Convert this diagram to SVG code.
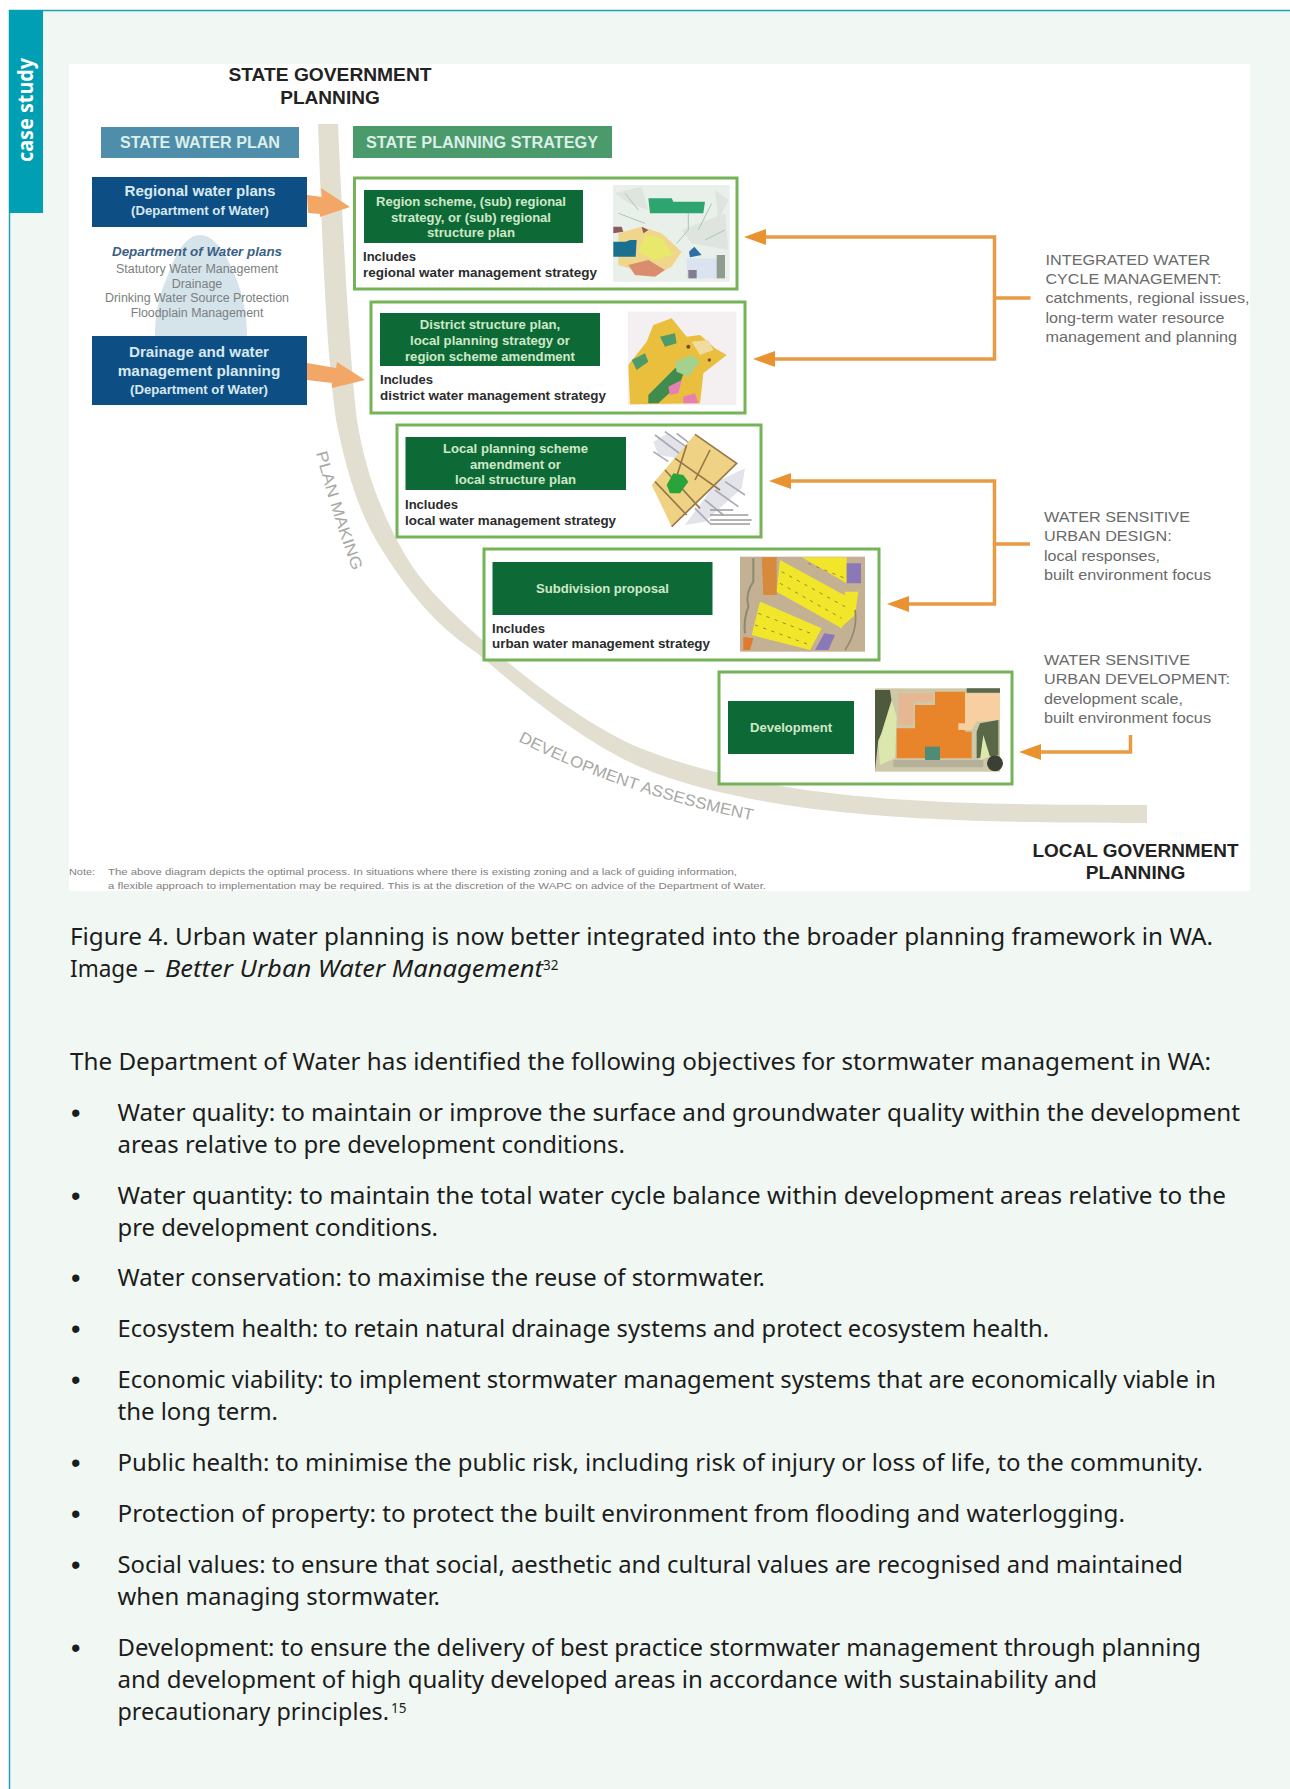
<svg xmlns="http://www.w3.org/2000/svg" width="1290" height="1789" viewBox="0 0 1290 1789">
<style>
text{font-family:"Liberation Sans",Arial,sans-serif}
.b{font-family:"Noto Sans","Open Sans",sans-serif;font-size:23.500px;fill:#1c1c1c}
.bu{font-size:27px;fill:#1c1c1c}
.t{font-weight:700;font-size:18px;fill:#222;text-anchor:middle}
.h{font-weight:700;font-size:16px;fill:#dcefe8;text-anchor:middle}
.w{font-weight:700;fill:#d8e8f0;text-anchor:middle}
.g{font-size:12.5px;fill:#7a7f80;text-anchor:middle}
.n{font-weight:700;font-size:12.5px;fill:#cfe8c8;text-anchor:middle}
.i{font-weight:700;font-size:12.5px;fill:#2c2c2c}
.r{font-size:14.5px;fill:#6a6a6a}
.f{font-size:9.8px;fill:#808080}
.c{font-size:16px;fill:#a8a8a4}
.box{fill:#fff;stroke:#74b357;stroke-width:3}
.dark{fill:#0d6a36}
.blue{fill:#0d4f84}
.fat{fill:#f3a766}
.con{fill:none;stroke:#e89a45;stroke-width:3.5}
.th{filter:url(#soft)}
.lot{fill:none;stroke:#9a8a2a;stroke-width:3;stroke-dasharray:10 16}
</style>
<defs>
<marker id="ah" markerUnits="userSpaceOnUse" markerWidth="22" markerHeight="16" viewBox="0 0 22 16" refX="5" refY="8" orient="auto"><path d="M0,0 L22,8 L0,16 Z" fill="#e8932f"/></marker>
<filter id="soft" x="-5%" y="-5%" width="110%" height="110%"><feGaussianBlur stdDeviation="0.9"/></filter>
<path id="pm" d="M316,453 C326,490 338,532 354,574"/>
<path id="da" d="M518,741 C590,778 670,804 756,821"/>
</defs>

<rect width="1290" height="1789" fill="#fff"/>
<rect x="9" y="10" width="1281" height="1779" fill="#f1f8f3"/>
<path d="M9.500,1789 V10.500 H1290" fill="none" stroke="#1fa3b3" stroke-width="1.500"/>
<g id="tab">
<rect x="9" y="10" width="34" height="203" fill="#009fb3"/>
<text transform="translate(33 162) rotate(-90)" textLength="104" lengthAdjust="spacingAndGlyphs" style="font-family:'Noto Sans','Open Sans',sans-serif;font-size:21px;font-weight:700;fill:#fff">case study</text>
</g>

<rect x="69" y="64" width="1181" height="827" fill="#fff"/>

<g id="band"><path d="M318,124 C322,230 325,340 336,420 C348,480 362,520 384,553 C420,610 450,635 477,653 C520,690 580,740 640,767 C690,788 750,800 806,808 C900,820 1000,823 1147,823 V805 C1000,805 900,803 806,790 C750,782 690,768 640,748 C600,732 540,690 497,653 C460,620 425,590 404,553 C380,510 365,470 357,420 C350,360 343,240 338,124 Z" fill="#e3dfd0"/></g>

<g id="state-government"><text class="t" x="330" y="81" textLength="203" lengthAdjust="spacingAndGlyphs">STATE GOVERNMENT</text><text class="t" x="330" y="104" textLength="99.500" lengthAdjust="spacingAndGlyphs">PLANNING</text></g>

<g id="state-water-plan"><rect x="101" y="127" width="198" height="31" fill="#4f8eaa"/><text class="h" x="200" y="148" textLength="160" lengthAdjust="spacingAndGlyphs">STATE WATER PLAN</text></g>
<g id="state-planning-strategy"><rect x="353" y="126" width="259" height="32" fill="#4b9a6c"/><text class="h" x="482" y="148" textLength="232" lengthAdjust="spacingAndGlyphs">STATE PLANNING STRATEGY</text></g>

<g id="regional-water-plans"><rect class="blue" x="92" y="177" width="215" height="50"/>
<text class="w" x="200" y="196" font-size="14.500" textLength="151" lengthAdjust="spacingAndGlyphs">Regional water plans</text>
<text class="w" x="200" y="215" font-size="12.500" textLength="138" lengthAdjust="spacingAndGlyphs">(Department of Water)</text></g>

<g id="department-of-water-plans">
<path d="M200,235 C184,235 174,258 166,280 C158,298 155,318 155,336 H247 C247,316 243,295 236,278 C228,258 216,235 200,235 Z" fill="#d5e3ea"/>
<text x="197" y="256" text-anchor="middle" font-size="13" font-weight="700" font-style="italic" fill="#3b5f85" textLength="170" lengthAdjust="spacingAndGlyphs">Department of Water plans</text>
<text class="g" x="197" y="273" textLength="162" lengthAdjust="spacingAndGlyphs">Statutory Water Management</text>
<text class="g" x="197" y="288" textLength="50.600" lengthAdjust="spacingAndGlyphs">Drainage</text>
<text class="g" x="197" y="302" textLength="184" lengthAdjust="spacingAndGlyphs">Drinking Water Source Protection</text>
<text class="g" x="197" y="317" textLength="132.700" lengthAdjust="spacingAndGlyphs">Floodplain Management</text></g>

<g id="drainage-water-planning"><rect class="blue" x="92" y="336" width="215" height="69"/>
<text class="w" x="199" y="357" font-size="14.500" textLength="140" lengthAdjust="spacingAndGlyphs">Drainage and water</text>
<text class="w" x="199" y="376" font-size="14.500" textLength="162.500" lengthAdjust="spacingAndGlyphs">management planning</text>
<text class="w" x="199" y="394" font-size="12.500" textLength="138" lengthAdjust="spacingAndGlyphs">(Department of Water)</text></g>

<g id="region-scheme"><rect class="box" x="354.500" y="178" width="382.500" height="111"/>
<rect class="dark" x="364" y="190" width="219" height="53"/>
<text class="n" x="471" y="206" textLength="190" lengthAdjust="spacingAndGlyphs">Region scheme, (sub) regional</text>
<text class="n" x="471" y="222" textLength="160" lengthAdjust="spacingAndGlyphs">strategy, or (sub) regional</text>
<text class="n" x="471" y="237" textLength="88" lengthAdjust="spacingAndGlyphs">structure plan</text>
<text class="i" x="363" y="261" textLength="53" lengthAdjust="spacingAndGlyphs">Includes</text>
<text class="i" x="363" y="277" textLength="234" lengthAdjust="spacingAndGlyphs">regional water management strategy</text>
<g class="th" transform="translate(605 180) scale(.33333)">
<rect x="24" y="15" width="350" height="290" fill="#e9f0ea"/>
<path d="M30,40 L110,20 L130,90 L70,70 Z M330,30 L370,60 L340,120 Z M230,150 L360,100 L370,210 L260,190 Z" fill="#dfe4df"/>
<path d="M130,55 H200 L205,65 H300 L295,100 H135 Z" fill="#2ea570"/>
<path d="M250,100 V150 L215,190 M320,70 L280,150 M40,100 L120,130 M60,40 L100,90 M300,180 L360,150" fill="none" stroke="#a9c7b2" stroke-width="3"/>
<path d="M40,160 L110,140 L170,160 L230,215 L200,260 L150,285 L90,270 L40,255 Z" fill="#efd68a"/>
<path d="M120,165 L170,175 L205,225 L145,240 L100,215 Z" fill="#e8e86a"/>
<path d="M25,185 H62 L75,180 H95 L92,230 H25 Z" fill="#1f6f8f"/>
<path d="M70,255 L130,240 L180,270 L150,290 L90,285 Z" fill="#d98c6e"/>
<path d="M25,140 L50,140 L55,155 L25,160 Z M110,140 L130,150 L115,160 Z" fill="#8b5a5a"/>
<path d="M252,215 L268,200 L290,225 L255,232 Z" fill="#2f6ea5"/>
<rect x="245" y="235" width="100" height="60" fill="#dbe3f1"/>
<rect x="335" y="225" width="25" height="70" fill="#8f9c8e"/>
<rect x="250" y="270" width="25" height="25" fill="#7f7f90"/>
</g></g>

<g id="district-structure-plan"><rect class="box" x="371" y="302" width="374" height="111"/>
<rect class="dark" x="380" y="313" width="220" height="53"/>
<text class="n" x="490" y="329" textLength="140.500" lengthAdjust="spacingAndGlyphs">District structure plan,</text>
<text class="n" x="490" y="345" textLength="160" lengthAdjust="spacingAndGlyphs">local planning strategy or</text>
<text class="n" x="490" y="361" textLength="170" lengthAdjust="spacingAndGlyphs">region scheme amendment</text>
<text class="i" x="380" y="384" textLength="53" lengthAdjust="spacingAndGlyphs">Includes</text>
<text class="i" x="380" y="400" textLength="226" lengthAdjust="spacingAndGlyphs">district water management strategy</text>
<g class="th" transform="translate(620 305) scale(.33333)">
<rect x="24" y="20" width="325" height="280" fill="#f4eff1"/>
<path d="M25,180 L80,110 L100,60 L155,40 L200,95 L240,90 L285,130 L320,150 L250,205 L240,295 L30,298 Z" fill="#e9bf3c"/>
<path d="M120,95 L165,85 L170,115 L135,125 Z M35,165 L75,145 L85,170 L50,195 Z" fill="#4f9a66"/>
<path d="M85,270 L165,190 L200,180 L180,235 L115,295 H85 Z" fill="#3f8c50"/>
<path d="M165,170 L215,150 L240,170 L205,215 L170,200 Z" fill="#a5d18e"/>
<path d="M145,245 L185,225 L175,265 L150,270 Z M190,275 L225,265 L235,295 H190 Z" fill="#e67fb4"/>
<path d="M215,110 L265,105 L280,135 L240,150 Z" fill="#f0dca0"/>
<circle cx="205" cy="125" r="6" fill="#7a4a26"/><circle cx="268" cy="165" r="5" fill="#7a4a26"/>
</g></g>

<g id="local-planning-scheme"><rect class="box" x="397" y="425" width="364" height="112"/>
<rect class="dark" x="405.500" y="437" width="220.500" height="53"/>
<text class="n" x="515.500" y="453" textLength="145" lengthAdjust="spacingAndGlyphs">Local planning scheme</text>
<text class="n" x="515.500" y="469" textLength="91" lengthAdjust="spacingAndGlyphs">amendment or</text>
<text class="n" x="515.500" y="484" textLength="121" lengthAdjust="spacingAndGlyphs">local structure plan</text>
<text class="i" x="405" y="509" textLength="53" lengthAdjust="spacingAndGlyphs">Includes</text>
<text class="i" x="405" y="525" textLength="211" lengthAdjust="spacingAndGlyphs">local water management strategy</text>
<g class="th" transform="translate(645 425) scale(.33333)">
<path d="M25,50 L70,25 L130,70 L100,100 L40,90 Z M215,170 L300,130 L290,190 L180,290 L120,300 Z" fill="#e3e3ea"/>
<path d="M30,30 L110,90 M60,20 L130,70 M95,25 L140,60 M25,80 L70,110 M240,170 L300,210 M210,195 L280,245 M180,225 L235,270 M150,250 L195,295" stroke="#a9a9b8" stroke-width="5" fill="none"/>
<path d="M20,180 L150,28 L275,115 L80,305 Z" fill="#efd283"/>
<path d="M150,28 L275,115 L80,305 M90,100 L225,195 M125,60 L90,170 M60,135 L165,250 M30,170 L125,270 M195,75 L150,165" stroke="#96784a" stroke-width="5" fill="none"/>
<path d="M65,180 L85,145 L115,150 L130,170 L105,205 L75,205 Z" fill="#2aa33a"/>
<path d="M195,255 H265 M195,270 H310 M195,285 H320 M195,297 H315" stroke="#9a9a9a" stroke-width="4"/>
</g></g>

<g id="subdivision-proposal"><rect class="box" x="484" y="549" width="395" height="111"/>
<rect class="dark" x="492.500" y="562" width="220" height="53"/>
<text class="n" x="602.500" y="593" textLength="133" lengthAdjust="spacingAndGlyphs">Subdivision proposal</text>
<text class="i" x="492" y="633" textLength="53" lengthAdjust="spacingAndGlyphs">Includes</text>
<text class="i" x="492" y="648" textLength="218" lengthAdjust="spacingAndGlyphs">urban water management strategy</text>
<g class="th" transform="translate(735 550) scale(.33333)">
<rect x="15" y="20" width="375" height="285" fill="#c4b092"/>
<path d="M80,22 H125 V135 H85 Z" fill="#d78a3a"/>
<path d="M135,30 L345,145 L320,235 L125,125 Z" fill="#f2e62a"/>
<path d="M200,22 H335 V100 Z" fill="#f2e62a"/>
<path d="M75,155 L260,235 L225,300 L50,255 Z" fill="#f2e62a"/>
<path d="M330,125 L370,125 L360,195 L315,235 Z" fill="#f2e62a"/>
<path class="lot" d="M140,65 L330,170 M135,100 L320,205 M70,190 L240,255 M60,225 L225,285 M220,40 L330,85"/>
<path d="M335,40 H378 V100 H335 Z M268,250 L300,255 L280,300 H240 Z" fill="#8a78b8"/>
<path d="M25,260 L55,265 L45,300 H25 Z" fill="#e07a30"/>
<path d="M55,25 V95 Q30,130 40,170 Q25,210 30,250" fill="none" stroke="#8d8a72" stroke-width="6"/>
<path d="M360,180 Q370,240 330,300" fill="none" stroke="#8d8a72" stroke-width="5"/>
</g></g>

<g id="development"><rect class="box" x="719" y="672" width="293" height="112"/>
<rect class="dark" x="728" y="701" width="126" height="53"/>
<text class="n" x="791" y="732" textLength="82" lengthAdjust="spacingAndGlyphs">Development</text>
<g class="th" transform="translate(870 680) scale(.33333)">
<rect x="15" y="25" width="375" height="250" fill="#cfc8a8"/>
<path d="M15,30 H60 L70,100 L50,130 L25,180 L15,270 Z" fill="#4d5a3e"/>
<path d="M65,60 L80,110 L75,235 L30,255 L25,190 Z" fill="#dbe7ad"/>
<path d="M195,35 H285 V155 H305 V235 H80 V145 H135 V75 H195 Z" fill="#e8842a"/>
<path d="M85,40 H190 V65 H130 V135 H85 Z" fill="#e5b793"/>
<path d="M285,40 H390 V120 L320,125 L305,150 H265 V130 H285 Z" fill="#f8cfa0"/>
<rect x="165" y="200" width="45" height="50" fill="#4f8c78"/>
<path d="M330,130 L385,120 L385,225 L350,230 L320,235 V155 Z" fill="#58684a"/>
<path d="M340,165 L360,230 L330,240 Z" fill="#dde8ae"/>
<circle cx="375" cy="250" r="24" fill="#3a4034"/>
<path d="M290,25 H390 V38 H290 Z" fill="#5a6a4f"/>
<path d="M70,240 H340 V262 H70 Z" fill="#b5b09a"/>
</g></g>

<g id="fat-arrows">
<path class="fat" d="M307,195 L322,197 L321,188 L350,207 L320,217 L320,214 L308,213 Z"/>
<path class="fat" d="M307,363 L336,368 L337,362 L365,380 L332,388 L332,383 L307,380 Z"/>
</g>

<g id="connectors">
<path class="con" d="M1030.500,298 H994.500"/>
<path class="con" d="M994.500,298 V237 H761" marker-end="url(#ah)"/>
<path class="con" d="M994.500,298 V359 H770" marker-end="url(#ah)"/>
<path class="con" d="M1030,544 H994.500"/>
<path class="con" d="M994.500,544 V481 H786" marker-end="url(#ah)"/>
<path class="con" d="M994.500,544 V604 H904" marker-end="url(#ah)"/>
<path class="con" d="M1130.500,735 V752 H1036" marker-end="url(#ah)"/>
</g>

<g id="integrated-water-cycle">
<text class="r" x="1045.500" y="265" textLength="164.600" lengthAdjust="spacingAndGlyphs">INTEGRATED WATER</text>
<text class="r" x="1045.500" y="284" textLength="176" lengthAdjust="spacingAndGlyphs">CYCLE MANAGEMENT:</text>
<text class="r" x="1045.500" y="303" textLength="204" lengthAdjust="spacingAndGlyphs">catchments, regional issues,</text>
<text class="r" x="1045.500" y="323" textLength="179" lengthAdjust="spacingAndGlyphs">long-term water resource</text>
<text class="r" x="1045.500" y="342" textLength="191.500" lengthAdjust="spacingAndGlyphs">management and planning</text>
</g>
<g id="wsud">
<text class="r" x="1044" y="522" textLength="146" lengthAdjust="spacingAndGlyphs">WATER SENSITIVE</text>
<text class="r" x="1044" y="541" textLength="127.700" lengthAdjust="spacingAndGlyphs">URBAN DESIGN:</text>
<text class="r" x="1044" y="561" textLength="116" lengthAdjust="spacingAndGlyphs">local responses,</text>
<text class="r" x="1044" y="580" textLength="167" lengthAdjust="spacingAndGlyphs">built environment focus</text>
</g>
<g id="wsud2">
<text class="r" x="1044" y="665" textLength="146" lengthAdjust="spacingAndGlyphs">WATER SENSITIVE</text>
<text class="r" x="1044" y="684" textLength="186" lengthAdjust="spacingAndGlyphs">URBAN DEVELOPMENT:</text>
<text class="r" x="1044" y="704" textLength="139" lengthAdjust="spacingAndGlyphs">development scale,</text>
<text class="r" x="1044" y="723" textLength="167" lengthAdjust="spacingAndGlyphs">built environment focus</text>
</g>

<g id="band-labels">
<text class="c"><textPath href="#pm" textLength="124" lengthAdjust="spacingAndGlyphs">PLAN MAKING</textPath></text>
<text class="c"><textPath href="#da" textLength="248" lengthAdjust="spacingAndGlyphs">DEVELOPMENT ASSESSMENT</textPath></text>
</g>

<g id="local-government"><text class="t" x="1135.500" y="857" textLength="206" lengthAdjust="spacingAndGlyphs">LOCAL GOVERNMENT</text><text class="t" x="1135.500" y="879" textLength="99.500" lengthAdjust="spacingAndGlyphs">PLANNING</text></g>

<g id="note">
<text class="f" x="69" y="875" textLength="26" lengthAdjust="spacingAndGlyphs">Note:</text>
<text class="f" x="108" y="875" textLength="629" lengthAdjust="spacingAndGlyphs">The above diagram depicts the optimal process. In situations where there is existing zoning and a lack of guiding information,</text>
<text class="f" x="108" y="889" textLength="658" lengthAdjust="spacingAndGlyphs">a flexible approach to implementation may be required. This is at the discretion of the WAPC on advice of the Department of Water.</text>
</g>

<g id="body">
<text class="b" x="70" y="945" textLength="1143" lengthAdjust="spacingAndGlyphs">Figure 4. Urban water planning is now better integrated into the broader planning framework in WA.</text>
<text class="b" x="70" y="977" textLength="85" lengthAdjust="spacingAndGlyphs">Image –</text>
<text class="b" x="165" y="977" font-style="italic" textLength="378" lengthAdjust="spacingAndGlyphs">Better Urban Water Management</text>
<text x="543" y="970" style="font-family:'Noto Sans',sans-serif;font-size:13.500px;fill:#1c1c1c">32</text>
<text class="b" x="70" y="1070" textLength="1141" lengthAdjust="spacingAndGlyphs">The Department of Water has identified the following objectives for stormwater management in WA:</text>

<text class="bu" x="71" y="1122">•</text>
<text class="b" x="117.500" y="1121" textLength="1122.500" lengthAdjust="spacingAndGlyphs">Water quality: to maintain or improve the surface and groundwater quality within the development</text>
<text class="b" x="117.500" y="1153" textLength="507.500" lengthAdjust="spacingAndGlyphs">areas relative to pre development conditions.</text>
<text class="bu" x="71" y="1205">•</text>
<text class="b" x="117.500" y="1204" textLength="1108.500" lengthAdjust="spacingAndGlyphs">Water quantity: to maintain the total water cycle balance within development areas relative to the</text>
<text class="b" x="117.500" y="1236" textLength="320.500" lengthAdjust="spacingAndGlyphs">pre development conditions.</text>
<text class="bu" x="71" y="1287">•</text>
<text class="b" x="117.500" y="1286" textLength="647.500" lengthAdjust="spacingAndGlyphs">Water conservation: to maximise the reuse of stormwater.</text>
<text class="bu" x="71" y="1338">•</text>
<text class="b" x="117.500" y="1337" textLength="931.500" lengthAdjust="spacingAndGlyphs">Ecosystem health: to retain natural drainage systems and protect ecosystem health.</text>
<text class="bu" x="71" y="1389">•</text>
<text class="b" x="117.500" y="1388" textLength="1098.500" lengthAdjust="spacingAndGlyphs">Economic viability: to implement stormwater management systems that are economically viable in</text>
<text class="b" x="117.500" y="1420" textLength="160.500" lengthAdjust="spacingAndGlyphs">the long term.</text>
<text class="bu" x="71" y="1472">•</text>
<text class="b" x="117.500" y="1471" textLength="1085.500" lengthAdjust="spacingAndGlyphs">Public health: to minimise the public risk, including risk of injury or loss of life, to the community.</text>
<text class="bu" x="71" y="1523">•</text>
<text class="b" x="117.500" y="1522" textLength="1007.500" lengthAdjust="spacingAndGlyphs">Protection of property: to protect the built environment from flooding and waterlogging.</text>
<text class="bu" x="71" y="1574">•</text>
<text class="b" x="117.500" y="1573" textLength="1065.500" lengthAdjust="spacingAndGlyphs">Social values: to ensure that social, aesthetic and cultural values are recognised and maintained</text>
<text class="b" x="117.500" y="1605" textLength="322.500" lengthAdjust="spacingAndGlyphs">when managing stormwater.</text>
<text class="bu" x="71" y="1657">•</text>
<text class="b" x="117.500" y="1656" textLength="1083.500" lengthAdjust="spacingAndGlyphs">Development: to ensure the delivery of best practice stormwater management through planning</text>
<text class="b" x="117.500" y="1688" textLength="979.500" lengthAdjust="spacingAndGlyphs">and development of high quality developed areas in accordance with sustainability and</text>
<text class="b" x="117.500" y="1720" textLength="271.500" lengthAdjust="spacingAndGlyphs">precautionary principles.</text>
<text x="391" y="1713" style="font-family:'Noto Sans',sans-serif;font-size:13.500px;fill:#1c1c1c">15</text>
</g>
</svg>
